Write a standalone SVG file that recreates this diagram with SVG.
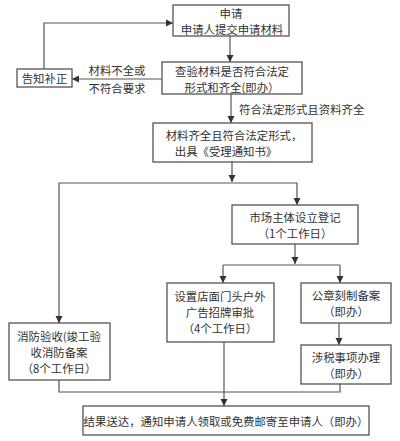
<svg xmlns="http://www.w3.org/2000/svg" width="400" height="441" viewBox="0 0 400 441">
<style>
.b{fill:#fff;stroke:#555;stroke-width:1.3}
.c{fill:none;stroke:#555;stroke-width:1.2}
text{font-family:"Noto Sans CJK SC","Liberation Sans",sans-serif;font-size:11.4px;fill:#333;text-anchor:middle;dominant-baseline:central}
.l{text-anchor:start}
</style>
<defs>
<marker id="a" markerWidth="8" markerHeight="8" refX="7" refY="4" orient="auto" markerUnits="userSpaceOnUse">
<path d="M0,0.5 L7,4 L0,7.5 Z" fill="#333"/>
</marker>
</defs>
<rect width="400" height="441" fill="#fff"/>
<g id="connectors">
<path class="c" d="M230,36 V62" marker-end="url(#a)"/>
<path class="c" d="M162,79 H72" marker-end="url(#a)"/>
<path class="c" d="M44,69 V23 H173" marker-end="url(#a)"/>
<path class="c" d="M231,94 V123" marker-end="url(#a)"/>
<path class="c" d="M232,162 V182" marker-end="url(#a)"/>
<path class="c" d="M59,323 V183 H297 V205" marker-end="url(#a)"/>
<path class="c" d="M59,316 V323" marker-end="url(#a)"/>
<path class="c" d="M295,244 V264" marker-end="url(#a)"/>
<path class="c" d="M223,265 H340"/>
<path class="c" d="M223,265 V283" marker-end="url(#a)"/>
<path class="c" d="M340,265 V283" marker-end="url(#a)"/>
<path class="c" d="M339,323 V345" marker-end="url(#a)"/>
<path class="c" d="M59,380 V392 H340 V384"/>
<path class="c" d="M224,342 V406" marker-end="url(#a)"/>
</g>
<g id="n1"><rect class="b" x="173" y="5" width="116" height="31"/><text x="231" y="13">申请</text><text x="232" y="29">申请人提交申请材料</text></g>
<g id="n2"><rect class="b" x="162" y="62" width="140" height="32"/><text x="232" y="71">查验材料是否符合法定</text><text x="232" y="87">形式和齐全(即办）</text></g>
<g id="n3"><rect class="b" x="17" y="69" width="55" height="18"/><text x="44.5" y="78">告知补正</text></g>
<g id="lbl1"><text x="117" y="70">材料不全或</text><text x="117" y="88">不符合要求</text></g>
<g id="lbl2"><text class="l" x="239" y="109">符合法定形式且资料齐全</text></g>
<g id="n4"><rect class="b" x="153" y="123" width="159" height="39"/><text x="234" y="135">材料齐全且符合法定形式，</text><text x="226" y="151">出具《受理通知书》</text></g>
<g id="n5"><rect class="b" x="232" y="205" width="126" height="39"/><text x="295" y="217">市场主体设立登记</text><text x="295" y="233">（1个工作日）</text></g>
<g id="n6"><rect class="b" x="167" y="283" width="107" height="59"/><text x="220" y="296">设置店面门头户外</text><text x="220" y="312">广告招牌审批</text><text x="220" y="328">（4个工作日）</text></g>
<g id="n7"><rect class="b" x="301" y="283" width="90" height="40"/><text x="346" y="295">公章刻制备案</text><text x="346" y="311">（即办）</text></g>
<g id="n8"><rect class="b" x="301" y="345" width="90" height="39"/><text x="346" y="357">涉税事项办理</text><text x="346" y="373">（即办）</text></g>
<g id="n9"><rect class="b" x="9" y="323" width="101" height="57"/><text x="59" y="336">消防验收(竣工验</text><text x="59" y="352">收消防备案</text><text x="59" y="368">（8个工作日）</text></g>
<g id="n10"><rect class="b" x="83" y="406" width="286" height="29"/><text x="226" y="421">结果送达，通知申请人领取或免费邮寄至申请人（即办）</text></g>
</svg>
